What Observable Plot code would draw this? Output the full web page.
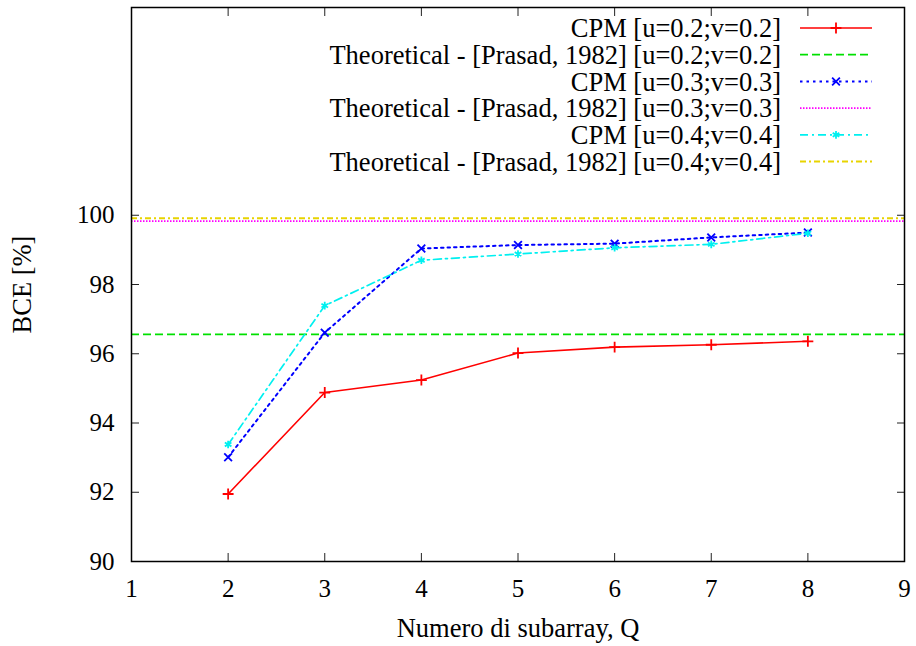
<!DOCTYPE html>
<html>
<head>
<meta charset="utf-8">
<script src="https://cdn.jsdelivr.net/npm/d3@7"></script>
<script src="https://cdn.jsdelivr.net/npm/@observablehq/plot@0.6"></script>
<style>
  html, body { margin: 0; padding: 0; background: #fff; }
  #chart { width: 916px; height: 646px; }
</style>
</head>
<body>
<div id="chart"></div>
<script>
const subarrays = [2, 3, 4, 5, 6, 7, 8];
const cpm02 = [91.95, 94.88, 95.24, 96.02, 96.19, 96.26, 96.36];
const cpm03 = [93.01, 96.61, 99.04, 99.14, 99.18, 99.36, 99.50];
const cpm04 = [93.38, 97.39, 98.70, 98.88, 99.06, 99.16, 99.48];
const theo02 = 96.56;
const theo03 = 99.83;
const theo04 = 99.91;
const xTicks = [1, 2, 3, 4, 5, 6, 7, 8, 9];
const yTicks = [90, 92, 94, 96, 98, 100];
const legendLabels = [
  "CPM [u=0.2;v=0.2]",
  "Theoretical - [Prasad, 1982] [u=0.2;v=0.2]",
  "CPM [u=0.3;v=0.3]",
  "Theoretical - [Prasad, 1982] [u=0.3;v=0.3]",
  "CPM [u=0.4;v=0.4]",
  "Theoretical - [Prasad, 1982] [u=0.4;v=0.4]"
];

const FONT = "Liberation Serif, Times New Roman, serif";
const TEXT_SIZE = 26.5;
const MARK_R = 3.6;
const styles = [
  {stroke: "#ff0000", dash: null, symbol: "plus", width: 1.6},
  {stroke: "#00e000", dash: "8,4", symbol: null, width: 1.8},
  {stroke: "#0000ff", dash: "2.5,4", symbol: "times", width: 2},
  {stroke: "#ff00ff", dash: "1.5,1.5", symbol: null, width: 1.6},
  {stroke: "#00f0f0", dash: "8,4,2,4", symbol: "asterisk", width: 1.7},
  {stroke: "#e8d400", dash: "6,3,2,3", symbol: null, width: 2}
];

const toRows = (vals) => subarrays.map((q, i) => ({q, v: vals[i]}));
const series = [toRows(cpm02), null, toRows(cpm03), null, toRows(cpm04), null];
const theo = [null, theo02, null, theo03, null, theo04];

const marks = [];
// Theoretical horizontal lines
[5, 3, 1].forEach(k => {
  marks.push(Plot.ruleY([theo[k]], {stroke: styles[k].stroke, strokeWidth: styles[k].width, strokeDasharray: styles[k].dash}));
});
// CPM lines and markers
[0, 2, 4].forEach(k => {
  const s = styles[k];
  marks.push(Plot.line(series[k], {x: "q", y: "v", stroke: s.stroke, strokeWidth: s.width, strokeDasharray: s.dash}));
  marks.push(Plot.dot(series[k], {x: "q", y: "v", stroke: s.stroke, strokeWidth: 1.8, symbol: s.symbol, r: MARK_R}));
});
// inward ticks on all four sides
marks.push(Plot.axisY(yTicks, {anchor: "left", tickSize: -8, tickFormat: () => "", label: null, stroke: "#222"}));
marks.push(Plot.axisY(yTicks, {anchor: "right", tickSize: -8, tickFormat: () => "", label: null, stroke: "#222"}));
marks.push(Plot.axisX(xTicks, {anchor: "bottom", tickSize: -8, tickFormat: () => "", label: null, stroke: "#222"}));
marks.push(Plot.axisX(xTicks, {anchor: "top", tickSize: -8, tickFormat: () => "", label: null, stroke: "#222"}));
// tick labels
marks.push(Plot.axisY(yTicks, {anchor: "left", tickSize: 0, tickPadding: 17, label: null, fill: "#000", fontSize: 25}));
marks.push(Plot.axisX(xTicks, {anchor: "bottom", tickSize: 0, tickPadding: 18, label: null, fill: "#000", fontSize: 25}));
// axis titles
marks.push(Plot.axisY(yTicks, {anchor: "left", tickSize: 0, tickFormat: () => "", label: "BCE [%]", labelAnchor: "center", labelArrow: "none", labelOffset: 119, fill: "#000", fontSize: TEXT_SIZE}));
marks.push(Plot.axisX(xTicks, {anchor: "bottom", tickSize: 0, tickFormat: () => "", label: "Numero di subarray, Q", labelAnchor: "center", labelArrow: "none", labelOffset: 75, fill: "#000", fontSize: TEXT_SIZE}));
marks.push(Plot.frame({stroke: "#000", strokeWidth: 1.5}));

const chart = Plot.plot({
  width: 916,
  height: 646,
  marginLeft: 131,
  marginRight: 12,
  marginTop: 7,
  marginBottom: 85,
  style: {fontFamily: FONT, fontSize: "25px", background: "#fff", color: "#000"},
  x: {domain: [1, 9]},
  y: {domain: [90, 106]},
  marks
});
document.getElementById("chart").appendChild(chart);

// legend (key) in the upper right, gnuplot style
const svg = d3.select(chart.tagName.toLowerCase() === "svg" ? chart : chart.querySelector("svg"));
const key = svg.append("g").attr("font-family", FONT).attr("font-size", TEXT_SIZE);
legendLabels.forEach((label, i) => {
  const y = 28 + i * 26.7;
  const s = styles[i];
  key.append("text").attr("x", 781).attr("y", y).attr("dy", "0.35em").attr("text-anchor", "end").attr("fill", "#000").text(label);
  key.append("line").attr("x1", 800).attr("x2", 872).attr("y1", y).attr("y2", y)
    .attr("stroke", s.stroke).attr("stroke-width", s.width).attr("stroke-dasharray", s.dash);
  if (s.symbol) {
    const sym = {plus: d3.symbolPlus, times: d3.symbolTimes, asterisk: d3.symbolAsterisk}[s.symbol];
    key.append("path").attr("d", d3.symbol(sym, Math.PI * MARK_R * MARK_R)()).attr("transform", `translate(836,${y})`)
      .attr("fill", "none").attr("stroke", s.stroke).attr("stroke-width", 1.8);
  }
});
</script>
</body>
</html>
